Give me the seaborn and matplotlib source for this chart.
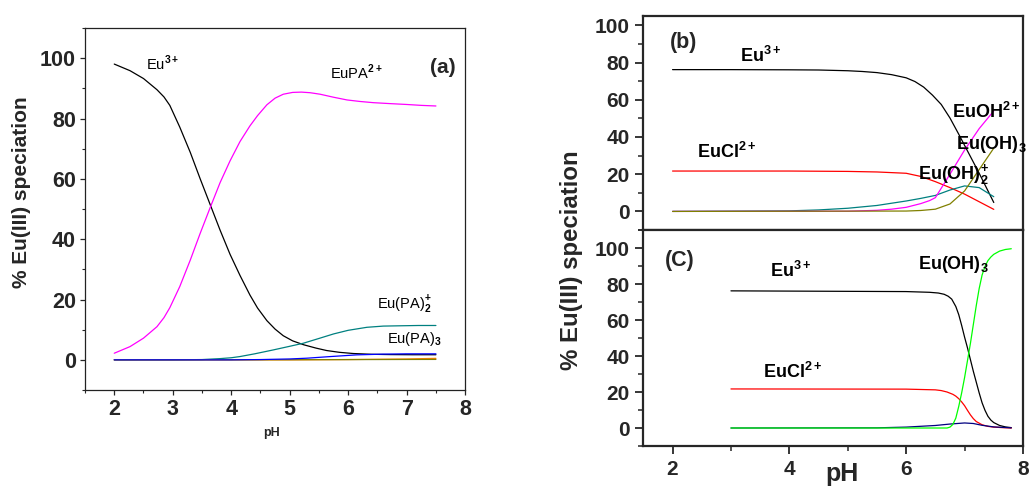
import matplotlib
matplotlib.use("Agg")
import pandas as pd
import matplotlib.pyplot as plt
import seaborn as sns
from matplotlib.ticker import MultipleLocator

# ---- panel (a): Eu(III) / PA system ----
ph_a_eu3 = [2.0, 2.27, 2.5, 2.73, 2.85, 2.95, 3.12, 3.3, 3.47, 3.67, 3.81, 3.98, 4.15, 4.32, 4.45,
            4.61, 4.75, 4.89, 5.05, 5.24, 5.45, 5.63, 5.85, 6.09, 6.4, 6.72, 7.1, 7.5]
pct_a_eu3 = [98.1, 95.9, 93.3, 89.6, 87.2, 84.4, 77.2, 68.8, 60.0, 50.0, 43.0, 35.0, 28.0, 21.5, 17.2,
             13.0, 10.2, 8.0, 6.3, 5.0, 3.9, 3.1, 2.5, 2.1, 1.85, 1.75, 1.7, 1.7]

ph_a_eupa = [2.0, 2.27, 2.5, 2.73, 2.85, 2.95, 3.12, 3.3, 3.47, 3.64, 3.81, 3.98, 4.15, 4.32, 4.45,
             4.61, 4.75, 4.89, 5.05, 5.2, 5.35, 5.52, 5.75, 5.98, 6.2, 6.43, 6.7, 7.0, 7.25, 7.5]
pct_a_eupa = [2.2, 4.4, 7.2, 11.0, 14.0, 17.3, 24.3, 33.1, 42.0, 50.5, 58.8, 66.0, 72.4, 77.6, 81.0,
              84.6, 86.8, 88.1, 88.7, 88.8, 88.6, 88.1, 87.1, 86.2, 85.7, 85.3, 85.0, 84.7, 84.4, 84.2]

ph_a_eupa2 = [2.0, 3.0, 3.5, 3.8, 4.0, 4.15, 4.4, 4.72, 5.0, 5.23, 5.5, 5.75, 6.0, 6.32, 6.6, 6.89, 7.2, 7.5]
pct_a_eupa2 = [0.0, 0.0, 0.1, 0.4, 0.7, 1.1, 2.0, 3.3, 4.5, 5.5, 7.1, 8.6, 9.8, 10.8, 11.2, 11.3, 11.4, 11.4]

ph_a_eupa3 = [2.0, 4.0, 4.5, 5.0, 5.29, 5.7, 6.15, 6.6, 7.0, 7.5]
pct_a_eupa3 = [0.0, 0.0, 0.1, 0.3, 0.55, 1.1, 1.66, 1.9, 2.0, 2.0]

ph_a_minor1 = [2.0, 5.0, 6.0, 6.5, 7.0, 7.5]
pct_a_minor1 = [0.0, 0.0, 0.1, 0.2, 0.3, 0.5]

ph_a_minor2 = [2.0, 5.0, 7.5]
pct_a_minor2 = [0.0, 0.05, 0.15]

# ---- panel (b) ----
ph_b_eu3 = [2.0, 3.0, 4.0, 4.5, 5.0, 5.25, 5.5, 5.75, 6.0, 6.15, 6.3, 6.45, 6.6, 6.75, 6.9, 7.0, 7.25, 7.5]
pct_b_eu3 = [76.2, 76.2, 76.1, 76.0, 75.6, 75.2, 74.6, 73.5, 71.8, 69.8, 66.8, 62.5, 57.5, 50.2, 41.5, 35.5, 20.5, 4.8]

ph_b_eucl = [2.0, 4.0, 5.0, 5.5, 6.0, 6.25, 6.5, 6.75, 7.0, 7.25, 7.5]
pct_b_eucl = [21.7, 21.7, 21.5, 21.2, 20.5, 18.8, 16.0, 12.8, 9.3, 5.2, 1.1]

ph_b_euoh = [2.0, 5.0, 5.5, 5.75, 6.0, 6.25, 6.4, 6.5, 6.75, 7.0, 7.25, 7.5]
pct_b_euoh = [0.0, 0.1, 0.6, 1.2, 2.2, 4.2, 5.8, 7.4, 20.0, 33.0, 44.5, 54.0]

ph_b_euoh2 = [2.0, 4.0, 4.5, 5.0, 5.5, 6.0, 6.25, 6.5, 6.75, 7.0, 7.25, 7.5]
pct_b_euoh2 = [0.0, 0.3, 0.8, 1.7, 3.2, 5.6, 7.0, 8.6, 11.5, 13.7, 12.8, 7.9]

ph_b_euoh3 = [2.0, 6.0, 6.25, 6.5, 6.75, 7.0, 7.25, 7.5]
pct_b_euoh3 = [0.0, 0.2, 0.5, 1.2, 4.0, 11.0, 22.5, 34.0]

# ---- panel (c) ----
ph_c_eu3 = [3.0, 6.0, 6.4, 6.55, 6.65, 6.72, 6.78, 6.85, 6.9, 6.95, 7.0, 7.05, 7.1, 7.15, 7.2,
            7.25, 7.3, 7.35, 7.4, 7.45, 7.5, 7.6, 7.7, 7.8]
pct_c_eu3 = [76.2, 75.8, 75.4, 75.0, 74.3, 73.2, 71.6, 67.5, 63.0, 57.0, 50.5, 44.5, 38.0, 31.5, 25.5,
             19.5, 14.0, 9.8, 6.5, 4.4, 3.0, 1.4, 0.6, 0.2]

ph_c_eucl = [3.0, 6.0, 6.5, 6.6, 6.7, 6.8, 6.85, 6.9, 6.95, 7.0, 7.05, 7.1, 7.15, 7.2, 7.3, 7.4, 7.5, 7.65, 7.8]
pct_c_eucl = [21.7, 21.6, 21.2, 20.8, 20.0, 18.7, 17.7, 16.3, 14.5, 12.4, 9.8, 7.3, 5.2, 3.6, 1.8, 0.9, 0.5, 0.2, 0.0]

ph_c_euoh2 = [3.0, 5.5, 6.0, 6.5, 6.75, 7.0, 7.15, 7.3, 7.5, 7.8]
pct_c_euoh2 = [0.0, 0.1, 0.5, 1.4, 2.2, 2.8, 2.5, 1.5, 0.6, 0.1]

ph_c_euoh3 = [3.0, 6.7, 6.75, 6.8, 6.85, 6.9, 6.95, 7.0, 7.05, 7.1, 7.15, 7.2, 7.25, 7.3, 7.35,
              7.4, 7.45, 7.5, 7.6, 7.7, 7.8]
pct_c_euoh3 = [0.0, 0.0, 0.5, 2.0, 5.5, 12.0, 19.5, 28.0, 37.5, 47.0, 57.5, 68.0, 77.5, 85.0, 89.8,
               93.0, 95.0, 96.5, 98.3, 99.2, 99.6]

colors = {
    "Eu3+": "#000000", "EuPA2+": "#ff00ff", "Eu(PA)2+": "#008080", "Eu(PA)3": "#0000ff",
    "minor1": "#ff8000", "minor2": "#808000",
    "EuCl2+": "#ff0000", "EuOH2+": "#ff00ff", "Eu(OH)2+": "#008080", "Eu(OH)3": "#808000",
    "Eu(OH)2+ c": "#000080", "Eu(OH)3 c": "#00ff00",
}


def long_frame(series):
    parts = [pd.DataFrame({"pH": x, "pct": y, "species": name}) for name, x, y in series]
    return pd.concat(parts, ignore_index=True)


df_a = long_frame([
    ("Eu3+", ph_a_eu3, pct_a_eu3), ("EuPA2+", ph_a_eupa, pct_a_eupa),
    ("Eu(PA)2+", ph_a_eupa2, pct_a_eupa2), ("minor1", ph_a_minor1, pct_a_minor1),
    ("minor2", ph_a_minor2, pct_a_minor2), ("Eu(PA)3", ph_a_eupa3, pct_a_eupa3),
])
df_b = long_frame([
    ("Eu3+", ph_b_eu3, pct_b_eu3), ("EuCl2+", ph_b_eucl, pct_b_eucl),
    ("Eu(OH)2+", ph_b_euoh2, pct_b_euoh2), ("EuOH2+", ph_b_euoh, pct_b_euoh),
    ("Eu(OH)3", ph_b_euoh3, pct_b_euoh3),
])
df_c = long_frame([
    ("Eu3+", ph_c_eu3, pct_c_eu3), ("EuCl2+", ph_c_eucl, pct_c_eucl),
    ("Eu(OH)2+ c", ph_c_euoh2, pct_c_euoh2), ("Eu(OH)3 c", ph_c_euoh3, pct_c_euoh3),
])

sns.set_style("ticks")
plt.rcParams["font.family"] = ["Liberation Sans", "DejaVu Sans"]
plt.rcParams["font.weight"] = "bold"
plt.rcParams["mathtext.fontset"] = "custom"
plt.rcParams["mathtext.rm"] = "Liberation Sans"
plt.rcParams["mathtext.bf"] = "Liberation Sans:bold"

fig = plt.figure(figsize=(10.33, 4.86), dpi=100)
ax_a = fig.add_axes([0.0823, 0.1975, 0.368, 0.7445])
ax_b = fig.add_axes([0.6228, 0.5267, 0.3675, 0.4403])
ax_c = fig.add_axes([0.6228, 0.0823, 0.3675, 0.4444])

for ax, df in [(ax_a, df_a), (ax_b, df_b), (ax_c, df_c)]:
    sns.lineplot(data=df, x="pH", y="pct", hue="species", palette=colors,
                 estimator=None, sort=False, linewidth=0.9, legend=False, ax=ax)
    ax.set_xlabel("")
    ax.set_ylabel("")
    ax.set_xlim(1.5, 8)
    ax.yaxis.set_major_locator(MultipleLocator(20))
    ax.yaxis.set_minor_locator(MultipleLocator(10))

# panel (a) styling
ax_a.set_ylim(-10, 110)
ax_a.set_xticks([2, 3, 4, 5, 6, 7, 8])
ax_a.xaxis.set_minor_locator(MultipleLocator(0.5))
ax_a.tick_params(which="major", direction="out", length=3.5, width=0.9, labelsize=15.5, pad=3)
ax_a.tick_params(which="minor", direction="out", length=2, width=0.8)
for sp in ax_a.spines.values():
    sp.set_linewidth(0.9)
    sp.set_color("#222222")

# panels (b), (c) styling
ax_b.set_ylim(-10, 105)
ax_c.set_ylim(-10, 110)
for ax in (ax_b, ax_c):
    ax.set_xticks([2, 4, 6, 8])
    ax.xaxis.set_minor_locator(MultipleLocator(1))
    ax.tick_params(which="major", direction="out", length=6, width=1.3, labelsize=15, pad=4)
    ax.tick_params(which="minor", direction="out", length=3.5, width=1.1)
    for sp in ax.spines.values():
        sp.set_linewidth(1.6)
ax_b.tick_params(axis="x", labelbottom=False)

# curve labels, panel (a)
ka = dict(fontsize=10.5, fontweight="normal", color="black", va="baseline")
ax_a.text(2.54, 96.1, r"Eu$^{3+}$", **ka)
ax_a.text(5.69, 93.0, r"EuPA$^{2+}$", **ka)
ax_a.text(6.49, 17.1, r"Eu(PA)$_2^{+}$", **ka)
ax_a.text(6.66, 5.5, r"Eu(PA)$_3$", **ka)
ax_a.text(7.4, 97, "(a)", fontsize=15, fontweight="bold", va="center")

# curve labels, panel (b)
kb = dict(fontsize=13, fontweight="bold", color="black", va="baseline")
ax_b.text(1.96, 90.7, "(b)", fontsize=15.5, fontweight="bold", va="center")
ax_b.text(3.16, 80.5, r"Eu$^{\mathbf{3+}}$", **kb)
ax_b.text(2.42, 28.9, r"EuCl$^{\mathbf{2+}}$", **kb)
ax_b.text(6.78, 50.4, r"EuOH$^{\mathbf{2+}}$", **kb)
ax_b.text(6.85, 33.3, r"Eu(OH)$_{\mathbf{3}}$", **kb)
ax_b.text(6.21, 17.2, r"Eu(OH)$_{\mathbf{2}}^{\mathbf{+}}$", **kb)

# curve labels, panel (c)
ax_c.text(1.87, 93, "(C)", fontsize=15.5, fontweight="bold", va="center")
ax_c.text(3.67, 83.7, r"Eu$^{\mathbf{3+}}$", **kb)
ax_c.text(3.55, 28.0, r"EuCl$^{\mathbf{2+}}$", **kb)
ax_c.text(6.2, 88.4, r"Eu(OH)$_{\mathbf{3}}$", **kb)

# axis titles
fig.text(22 / 1033, 1 - 191.7 / 486, "% Eu(III) speciation", rotation=90,
         fontsize=15, fontweight="bold", ha="center", va="center")
fig.text(271.7 / 1033, 1 - 433 / 486, "pH", fontsize=9, fontweight="bold",
         ha="center", va="center")
fig.text(571.5 / 1033, 1 - 260 / 486, "% Eu(III) speciation", rotation=90,
         fontsize=17.3, fontweight="bold", ha="center", va="center")
fig.text(841.5 / 1033, 1 - 481 / 486, "pH", fontsize=18, fontweight="bold",
         ha="center", va="baseline")

fig.savefig("out.png", dpi=100)
